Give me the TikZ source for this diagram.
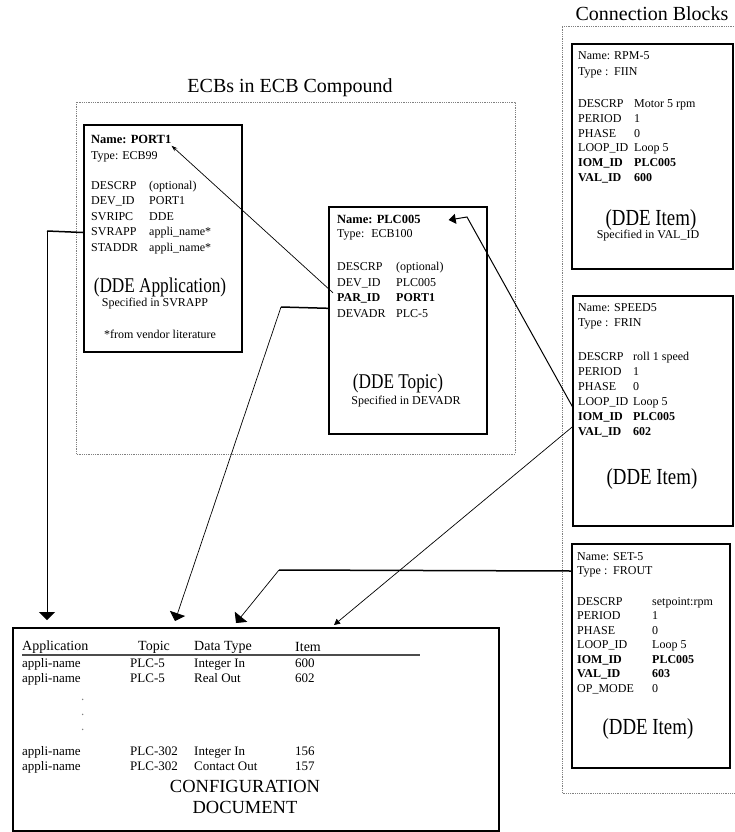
\documentclass[tikz,border=0pt]{standalone}
\usepackage{fontspec}
\setmainfont{Liberation Serif}
\newfontfamily\narrowfont{Liberation Serif}[FakeStretch=0.82]
\usetikzlibrary{arrows.meta, positioning, calc}

% field label with a fixed tab width
\newcommand{\fld}[3][56pt]{\makebox[#1][l]{#2}#3}

\tikzset{
  row/.style={anchor=west, inner sep=0pt, text height=8.5pt, text depth=2.5pt,
    font=\fontsize{12}{14}\selectfont},
  namerow/.style={row, font=\bfseries\fontsize{12.5}{14}\selectfont},
  big/.style={anchor=base, inner sep=0pt, font=\narrowfont\fontsize{21}{25}\selectfont},
  itemlabel/.style={big, font=\narrowfont\fontsize{23}{27}\selectfont},
  small/.style={anchor=base, inner sep=0pt, font=\fontsize{12}{14}\selectfont},
  heading/.style={inner sep=0pt, font=\fontsize{20}{24}\selectfont},
  blockbox/.style={draw, line width=1.6pt, anchor=north west, inner sep=0pt},
  region/.style={draw=gray, densely dotted, line width=0.8pt},
  cfghead/.style={anchor=west, inner sep=0pt, font=\fontsize{14}{16}\selectfont},
  cfgrow/.style={anchor=west, inner sep=0pt, text height=8pt, text depth=2.5pt,
    font=\fontsize{13}{15}\selectfont},
  link/.style={line width=0.7pt},
  feed/.style={line width=1.5pt},
  drop/.style={-{Triangle[length=8pt, width=16pt]}},
}

\begin{document}
\begin{tikzpicture}[x=1pt, y=-1pt]
\useasboundingbox (0,0) rectangle (734,832);
% Dotted groups and their titles
\draw[region] (76,102) rectangle (515,454);
\draw[region] (734,26) -- (562,26) -- (562,793) -- (734,793);
\node[heading] (ecbtitle) at (290,88) {ECBs in ECB Compound};
\node[heading] (cbtitle) at (652,14) {Connection Blocks};

% ECB99 block (DDE application)
\node[blockbox, minimum width=158pt, minimum height=227pt] (appbox) at (83,124) {};
\node[namerow] (appname) at (91,140) {Name: PORT1};
\node[row] (apptype) at (91,156) {Type: ECB99};
\foreach \txt [count=\i] in {{\fld[58pt]{DESCRP}{(optional)}}, {\fld[58pt]{DEV\_ID}{PORT1}},
    {\fld[58pt]{SVRIPC}{DDE}}, {\fld[58pt]{SVRAPP}{appli\_name*}}, {\fld[58pt]{STADDR}{appli\_name*}}}
  \node[row] (app\i) at (91,{186+15.5*(\i-1)}) {\txt};
\node[big] (appdde) at (160,292) {(DDE Application)};
\node[small] (appspec) at (155,306) {Specified in SVRAPP};
\node[small] (appnote) at (160,338) {*from vendor literature};

% ECB100 block (DDE topic)
\node[blockbox, minimum width=158pt, minimum height=227pt] (topbox) at (328,206) {};
\node[namerow] (topname) at (337,220) {Name: PLC005};
\node[row] (toptype) at (337,234) {Type:~ ECB100};
\foreach \txt [count=\i] in {{\fld[59pt]{DESCRP}{(optional)}}, {\fld[59pt]{DEV\_ID}{PLC005}},
    {\bfseries\fld[59pt]{PAR\_ID}{PORT1}}, {\fld[59pt]{DEVADR}{PLC-5}}}
  \node[row] (top\i) at (337,{267.5+15.5*(\i-1)}) {\txt};
\node[big] (topdde) at (398,388) {(DDE Topic)};
\node[small] (topspec) at (406,404) {Specified in DEVADR};

% Connection block RPM-5
\node[blockbox, minimum width=161pt, minimum height=225pt] (rpmbox) at (571,43) {};
\node[row] (rpmname) at (578,57) {\fld[36pt]{Name:}{RPM-5}};
\node[row] (rpmtype) at (578,73) {\fld[36pt]{Type :}{FIIN}};
\foreach \txt [count=\i] in {{\fld{DESCRP}{Motor 5 rpm}}, {\fld{PERIOD}{1}}, {\fld{PHASE}{0}},
    {\fld{LOOP\_ID}{Loop 5}}, {\bfseries\fld{IOM\_ID}{PLC005}}, {\bfseries\fld{VAL\_ID}{600}}}
  \node[row] (rpm\i) at (578,{105+14.6*(\i-1)}) {\txt};
\node[itemlabel] (rpmdde) at (651,225) {(DDE Item)};
\node[small] (rpmspec) at (648,238) {Specified in VAL\_ID};

% Connection block SPEED5
\node[blockbox, minimum width=160pt, minimum height=230pt] (spdbox) at (572,295) {};
\node[row] (spdname) at (578,308) {\fld[36pt]{Name:}{SPEED5}};
\node[row] (spdtype) at (578,323) {\fld[36pt]{Type :}{FRIN}};
\foreach \txt [count=\i] in {{\fld[55pt]{DESCRP}{roll 1 speed}}, {\fld[55pt]{PERIOD}{1}}, {\fld[55pt]{PHASE}{0}},
    {\fld[55pt]{LOOP\_ID}{Loop 5}}, {\bfseries\fld[55pt]{IOM\_ID}{PLC005}}, {\bfseries\fld[55pt]{VAL\_ID}{602}}}
  \node[row] (spd\i) at (578,{357+15*(\i-1)}) {\txt};
\node[itemlabel] (spddde) at (652,484) {(DDE Item)};

% Connection block SET-5
\node[blockbox, minimum width=158pt, minimum height=224pt] (setbox) at (571,543) {};
\node[row] (setname) at (577,557) {\fld[36pt]{Name:}{SET-5}};
\node[row] (settype) at (577,571) {\fld[36pt]{Type :}{FROUT}};
\foreach \txt [count=\i] in {{\fld[75pt]{DESCRP}{setpoint:rpm}}, {\fld[75pt]{PERIOD}{1}}, {\fld[75pt]{PHASE}{0}},
    {\fld[75pt]{LOOP\_ID}{Loop 5}}, {\bfseries\fld[75pt]{IOM\_ID}{PLC005}}, {\bfseries\fld[75pt]{VAL\_ID}{603}},
    {\fld[75pt]{OP\_MODE}{0}}}
  \node[row] (set\i) at (577,{602+14.5*(\i-1)}) {\txt};
\node[itemlabel] (setdde) at (648,734) {(DDE Item)};

% Configuration document
\node[blockbox, minimum width=486pt, minimum height=203pt] (cfgbox) at (12,627) {};
\node[cfghead] (hdapp) at (22,647) {Application};
\node[cfghead] (hdtopic) at (138,647) {Topic};
\node[cfghead] (hdtype) at (194,647) {Data Type};
\node[cfghead] (hditem) at (295,647) {Item};
\draw[gray!60!black, line width=1.2pt] (22,655) -- (420,655);
\foreach \y/\appl/\tpc/\dtype/\itm [count=\i] in {665/appli-name/PLC-5/Integer In/600,
    680/appli-name/PLC-5/Real Out/602, 753/appli-name/PLC-302/Integer In/156,
    768/appli-name/PLC-302/Contact Out/157} {
  \node[cfgrow] (cfga\i) at (22,\y) {\appl};
  \node[cfgrow] (cfgt\i) at (130,\y) {\tpc};
  \node[cfgrow] (cfgd\i) at (194,\y) {\dtype};
  \node[cfgrow] (cfgi\i) at (295,\y) {\itm};
}
\foreach \y [count=\i] in {698,713,728}
  \node[cfgrow, text=gray] (gap\i) at (81,\y) {.};
\node[align=center, inner sep=0pt, font=\fontsize{18.5}{21}\selectfont] (cfgname) at (245,797)
  {CONFIGURATION\\DOCUMENT};

% PAR_ID refers back to PORT1
\draw[link, -{Stealth[length=6pt, width=4pt]}] ([xshift=-4pt]top3.north west) -- (appname.south east);
% IOM_ID of SPEED5 refers to PLC005
\coordinate (kneeA) at (467,217);
\draw[line width=1pt, -{Triangle[length=7pt, width=10pt]}] ([xshift=-5pt]spd4.south west)
  -- (kneeA) -- ([xshift=28pt]topname.east);
% VAL_ID of SPEED5 gives the item
\draw[link, -{Triangle[length=6pt, width=6pt]}] ([xshift=-5pt]spd6.north west)
  -- ([xshift=322pt, yshift=2pt]cfgbox.north west);
% SET-5 gives the data type
\coordinate (kneeB) at (279,570);
\draw[feed] (setbox.west |- settype.west) -- (kneeB);
\draw[link, drop] (kneeB) -- ([xshift=224pt, yshift=4pt]cfgbox.north west);
% DEVADR gives the topic
\coordinate (kneeC) at (281,307);
\draw[feed] (topbox.west |- top4.north) -- (kneeC);
\draw[link, drop] (kneeC) -- ([xshift=163pt, yshift=6pt]cfgbox.north west);
% SVRAPP gives the application
\coordinate (kneeD) at (47,231);
\draw[feed] (appbox.west |- app4.west) -- (kneeD);
\draw[line width=1pt, drop] (kneeD) -- ([xshift=35pt, yshift=7pt]cfgbox.north west);
\end{tikzpicture}
\end{document}
